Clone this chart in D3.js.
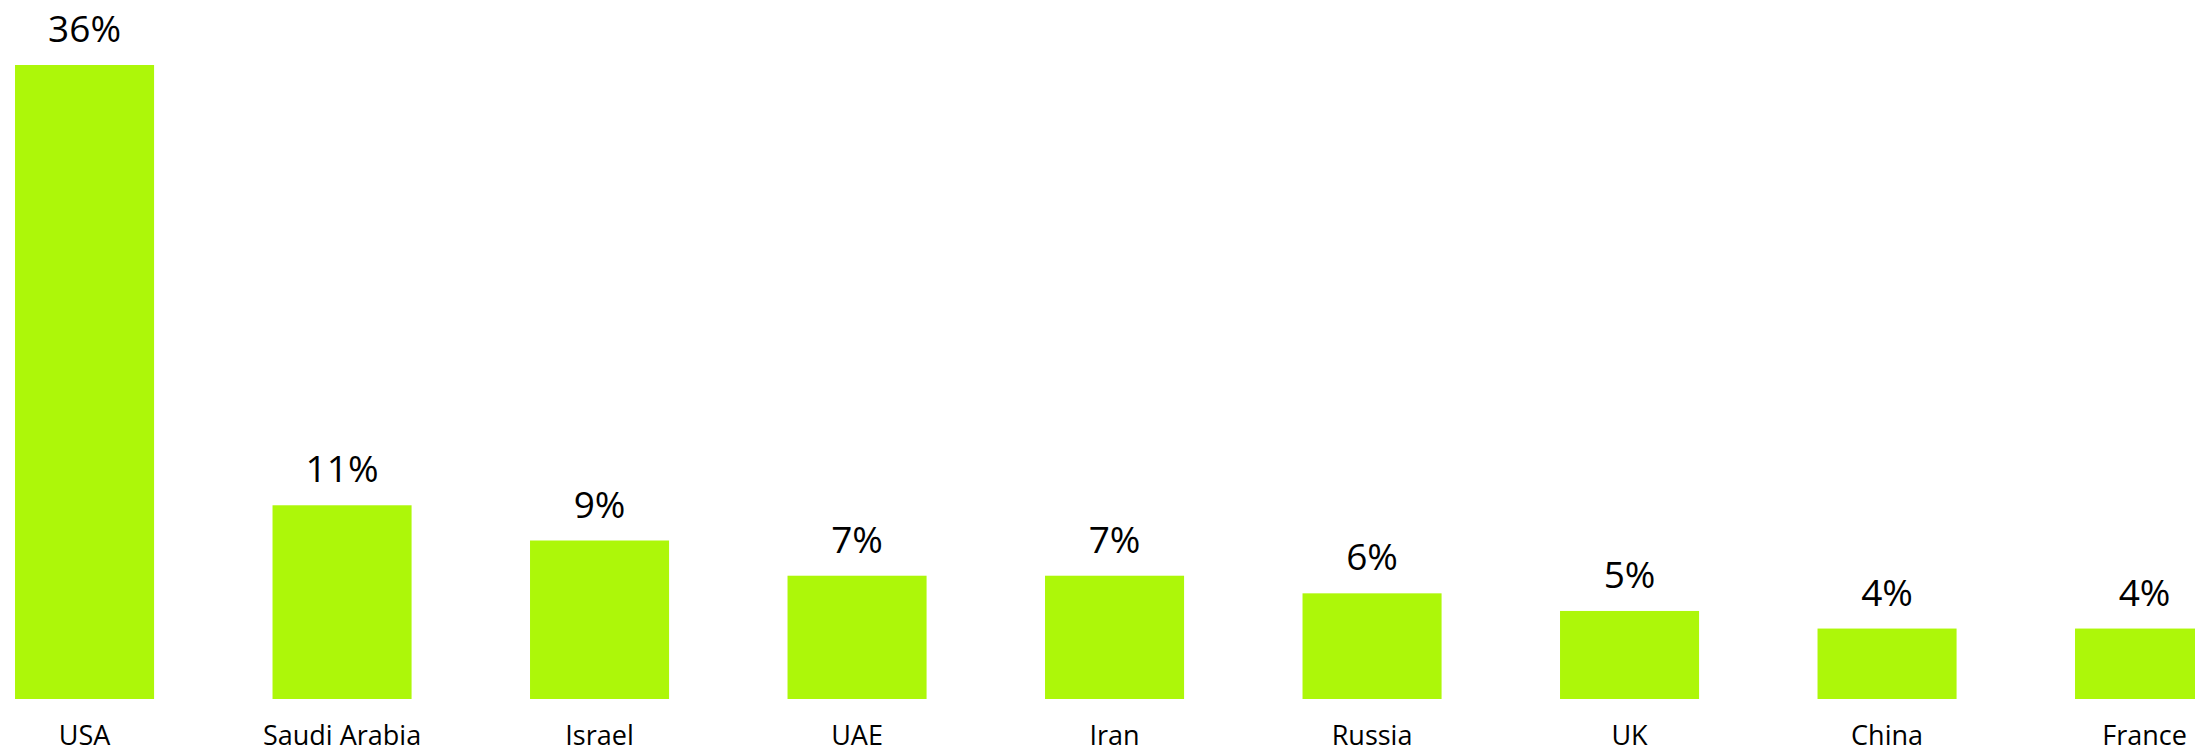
<!DOCTYPE html>
<html>
<head>
<meta charset="utf-8">
<script src="https://cdn.jsdelivr.net/npm/d3@7"></script>
<style>
  html, body { margin: 0; padding: 0; background: #ffffff; }
  svg { display: block; }
  text { font-family: "Open Sans", "Noto Sans", sans-serif; fill: #000; }
</style>
</head>
<body>
<svg id="chart" width="2195" height="753"></svg>
<script>
// Share by country (%)
const categories = ["USA", "Saudi Arabia", "Israel", "UAE", "Iran", "Russia", "UK", "China", "France"];
const values = [36, 11, 9, 7, 7, 6, 5, 4, 4];
const valueLabels = ["36%", "11%", "9%", "7%", "7%", "6%", "5%", "4%", "4%"];

const W = 2195, H = 753;
const svg = d3.select("#chart");

const x = d3.scaleBand()
  .domain(categories)
  .range([-44.2, 2273.3])
  .paddingInner(0.46)
  .paddingOuter(0.23);

const y = d3.scaleLinear()
  .domain([0, 36])
  .range([699, 65]);

const rows = categories.map((c, i) => ({ c, v: values[i], label: valueLabels[i] }));

// Bars
svg.append("g")
  .selectAll("rect")
  .data(rows)
  .join("rect")
  .attr("x", d => x(d.c))
  .attr("y", d => y(d.v))
  .attr("width", x.bandwidth())
  .attr("height", d => y(0) - y(d.v))
  .attr("fill", "#adf709");

// Value labels above bars
svg.append("g")
  .selectAll("text")
  .data(rows)
  .join("text")
  .attr("x", d => x(d.c) + x.bandwidth() / 2)
  .attr("y", d => y(d.v) - 23)
  .attr("text-anchor", "middle")
  .attr("font-size", 37)
  .text(d => d.label);

// Category axis labels
const xAxis = d3.axisBottom(x).tickSize(0).tickPadding(0);
const gx = svg.append("g")
  .attr("transform", `translate(0, ${y(0)})`)
  .call(xAxis);
gx.select(".domain").remove();
gx.selectAll(".tick text")
  .attr("dy", null)
  .attr("y", 46)
  .attr("font-size", 27)
  .attr("font-family", "\"Open Sans\", \"Noto Sans\", sans-serif")
  .attr("fill", "#000");
</script>
</body>
</html>
